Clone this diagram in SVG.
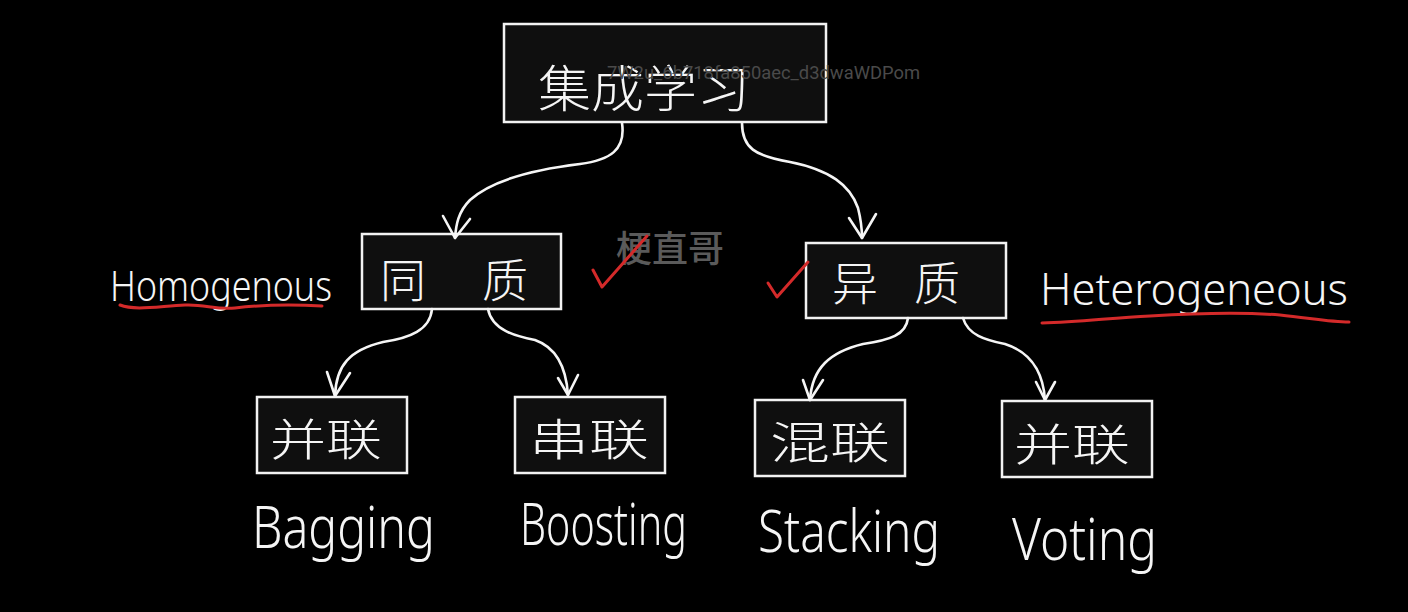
<svg xmlns="http://www.w3.org/2000/svg" width="1408" height="612" viewBox="0 0 1408 612">
<style>
.box{fill:#0f0f0f;stroke:#f2f2f2;stroke-width:2.5}
.zh{font-family:"Noto Sans CJK SC","Noto Sans CJK JP",sans-serif;font-weight:300;fill:#f5f5f5;text-anchor:middle}
.en{font-family:"Noto Sans","DejaVu Sans",sans-serif;font-weight:300;fill:#f5f5f5}
.conn path{fill:none;stroke:#f5f5f5;stroke-width:2.6;stroke-linecap:round;stroke-linejoin:round}
.red{fill:none;stroke:#d42a2a;stroke-width:3;stroke-linecap:round;stroke-linejoin:round}
</style>
<rect width="1408" height="612" fill="#000"/>

<g id="node-ensemble">
<rect class="box" x="504" y="24" width="322" height="98"/>
<text class="zh" x="644" y="107" font-size="50" textLength="212" lengthAdjust="spacingAndGlyphs">集成学习</text>
<text x="607" y="79" font-family="Roboto,'Liberation Sans',sans-serif" font-size="18" fill="#4a4a4a" textLength="313" lengthAdjust="spacingAndGlyphs">7W2u_6b718fa850aec_d3dwaWDPom</text>
</g>

<g id="node-homogeneous">
<rect class="box" x="362" y="234" width="199" height="75"/>
<text class="zh" x="403" y="297" font-size="46">同</text>
<text class="zh" x="505" y="297" font-size="46">质</text>
</g>

<g id="node-heterogeneous">
<rect class="box" x="806" y="243" width="200" height="75"/>
<text class="zh" x="855" y="300" font-size="46">异</text>
<text class="zh" x="937" y="300" font-size="46">质</text>
</g>

<g id="node-parallel-1">
<rect class="box" x="257" y="397" width="150" height="76"/>
<text class="zh" x="326" y="456" font-size="44" textLength="112" lengthAdjust="spacingAndGlyphs">并联</text>
</g>

<g id="node-serial">
<rect class="box" x="515" y="397" width="150" height="76"/>
<text class="zh" x="589" y="456" font-size="44" textLength="120" lengthAdjust="spacingAndGlyphs">串联</text>
</g>

<g id="node-mixed">
<rect class="box" x="755" y="400" width="150" height="76"/>
<text class="zh" x="830" y="459" font-size="44" textLength="120" lengthAdjust="spacingAndGlyphs">混联</text>
</g>

<g id="node-parallel-2">
<rect class="box" x="1002" y="401" width="150" height="76"/>
<text class="zh" x="1072" y="461" font-size="44" textLength="116" lengthAdjust="spacingAndGlyphs">并联</text>
</g>

<g id="connectors" class="conn">
<path d="M622,123 C626,150 610,160 580,164 C530,170 490,182 470,200 C458,212 456,225 455,238"/>
<path d="M443,216 L455,238 L470,219"/>
<path d="M742,123 C742,148 755,156 790,162 C830,170 850,185 858,208 C861,220 862,230 862,238"/>
<path d="M849,218 L862,238 L876,214"/>
<path d="M432,309 C430,330 410,338 383,342 C350,350 336,365 335,396"/>
<path d="M327,372 L335,396 L350,373"/>
<path d="M488,309 C492,330 515,336 535,340 C555,347 566,365 568,395"/>
<path d="M558,378 L568,395 L578,375"/>
<path d="M908,318 C906,335 890,340 863,344 C830,352 812,368 810,400"/>
<path d="M803,380 L810,400 L823,380"/>
<path d="M963,318 C968,335 985,340 1005,344 C1030,352 1043,370 1045,400"/>
<path d="M1036,382 L1045,400 L1055,382"/>
</g>

<g id="annotations">
<text x="670" y="262" font-family="'Noto Sans CJK SC',sans-serif" font-size="36" font-weight="500" fill="#5a5a5a" text-anchor="middle">梗直哥</text>
<text class="en" x="110" y="301" font-size="42" textLength="222" lengthAdjust="spacingAndGlyphs">Homogenous</text>
<path class="red" d="M120,305 C135,311 160,306 185,305 C205,304 215,310 235,308 C260,305 290,304 322,306"/>
<text class="en" x="1040" y="305" font-size="44" textLength="308" lengthAdjust="spacingAndGlyphs">Heterogeneous</text>
<path class="red" d="M1042,323 C1080,322 1110,318 1150,316 C1200,313 1240,312 1280,315 C1310,318 1330,322 1349,322"/>
<path class="red" d="M593,270 L602,287 L647,236"/>
<path class="red" d="M768,283 L777,297 L808,262"/>
<text class="en" x="252" y="548" font-size="58" textLength="183" lengthAdjust="spacingAndGlyphs">Bagging</text>
<text class="en" x="520" y="545" font-size="58" textLength="167" lengthAdjust="spacingAndGlyphs">Boosting</text>
<text class="en" x="758" y="552" font-size="58" textLength="182" lengthAdjust="spacingAndGlyphs">Stacking</text>
<text class="en" x="1012" y="560" font-size="58" textLength="145" lengthAdjust="spacingAndGlyphs">Voting</text>
</g>
</svg>
